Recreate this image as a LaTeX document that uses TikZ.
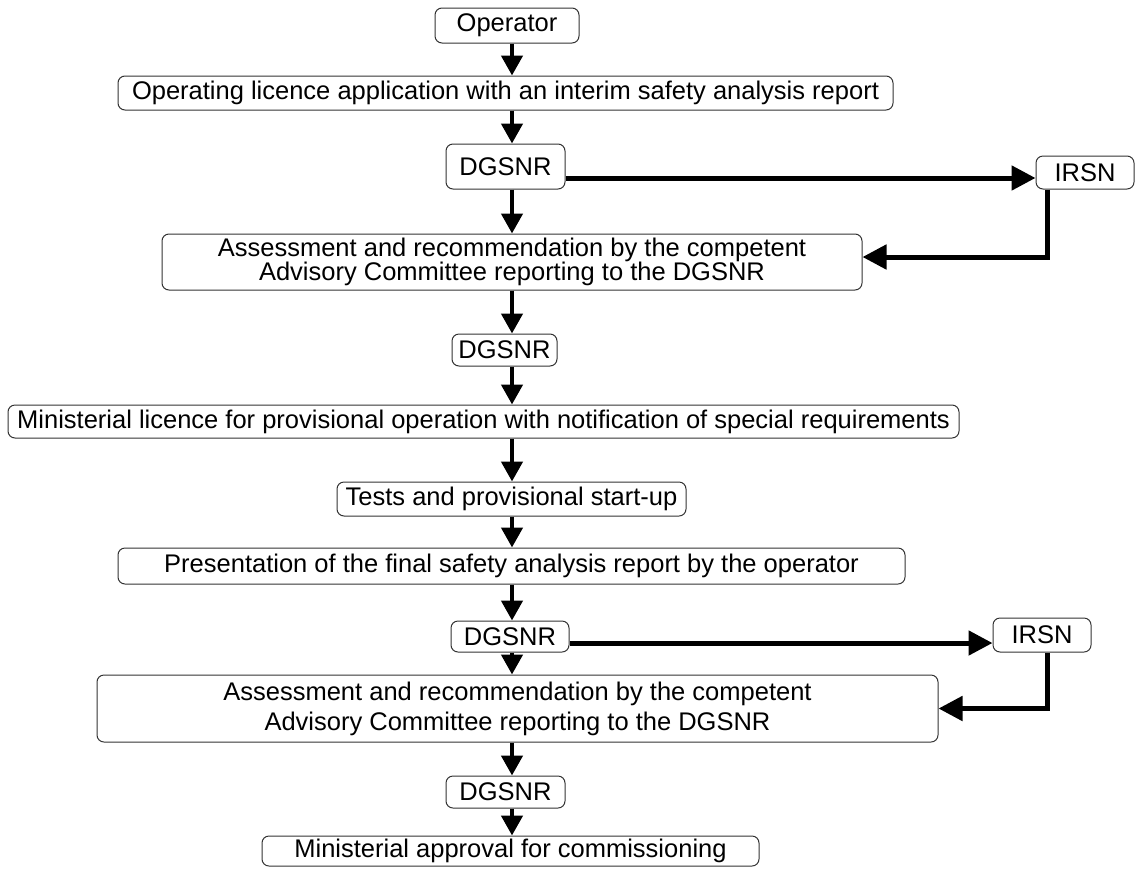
\documentclass[tikz,border=0pt]{standalone}
\usepackage{fontspec}
\setmainfont{Liberation Sans}
\usetikzlibrary{arrows.meta}

\begin{document}
\begin{tikzpicture}[x=1pt,y=-1pt,
  box/.style={draw=black!80,line width=1pt,rounded corners=7pt,inner sep=0pt,
    align=center,font=\fontsize{25.5}{23}\selectfont},
  flow/.style={line width=4.5pt,-{Triangle[length=20pt,width=21pt]}},
  side/.style={line width=5pt,-{Triangle[length=24pt,width=24pt]}}]
\useasboundingbox (0,0) rectangle (1137,868);

\node[box,minimum width=144pt,minimum height=35pt] (op) at (507,25.5) {Operator};
\node[box,minimum width=775pt,minimum height=34pt] (lic) at (505.5,93) {Operating licence application with an interim safety analysis report};
\node[box,minimum width=119pt,minimum height=45pt] (dg1) at (505.5,166.5) {DGSNR};
\node[box,minimum width=98pt,minimum height=33pt] (irsn1) at (1085,172.5) {IRSN};
\node[box,minimum width=700pt,minimum height=56pt] (ass1) at (512,262) {Assessment and recommendation by the competent\\ Advisory Committee reporting to the DGSNR};
\node[box,minimum width=105pt,minimum height=32pt] (dg2) at (504.5,350) {DGSNR};
\node[box,minimum width=951pt,minimum height=33pt] (min) at (483.5,421.5) {Ministerial licence for provisional operation with notification of special requirements};
\node[box,minimum width=349pt,minimum height=34pt] (tests) at (511.5,499) {Tests and provisional start-up};
\node[box,minimum width=787pt,minimum height=36pt] (pres) at (511.5,566) {Presentation of the final safety analysis report by the operator};
\node[box,minimum width=118pt,minimum height=31pt] (dg3) at (510,636.5) {DGSNR};
\node[box,minimum width=98pt,minimum height=34pt] (irsn2) at (1042,635) {IRSN};
\node[box,minimum width=841pt,minimum height=67pt,font=\fontsize{25.5}{30}\selectfont] (ass2) at (517.5,708.5) {Assessment and recommendation by the competent\\ Advisory Committee reporting to the DGSNR};
\node[box,minimum width=119pt,minimum height=32pt] (dg4) at (505.5,792) {DGSNR};
\node[box,minimum width=497pt,minimum height=30pt] (fin) at (510.5,851) {Ministerial approval for commissioning};

% main column
\coordinate (ax) at (512,0);
\path[draw,flow] (op.south -| ax) -- (lic.north -| ax);
\path[draw,flow] (lic.south -| ax) -- (dg1.north -| ax);
\path[draw,flow] (dg1.south -| ax) -- (ass1.north -| ax);
\path[draw,flow] (ass1.south -| ax) -- (dg2.north -| ax);
\path[draw,flow] (dg2.south -| ax) -- (min.north -| ax);
\path[draw,flow] (min.south -| ax) -- (tests.north -| ax);
\path[draw,flow] (tests.south -| ax) -- (pres.north -| ax);
\path[draw,flow] (pres.south -| ax) -- (dg3.north -| ax);
\path[draw,flow] (dg3.south -| ax) -- (ass2.north -| ax);
\path[draw,flow] (ass2.south -| ax) -- (dg4.north -| ax);
\path[draw,flow] (dg4.south -| ax) -- (fin.north -| ax);

% side loops to IRSN
\coordinate (h1) at (0,178);
\coordinate (h2) at (0,643);
\coordinate (f1) at (0,257);
\coordinate (bx) at (1047,0);
\path[draw,side] (dg1.east |- h1) -- (irsn1.west |- h1);
\path[draw,side] (irsn1.south -| bx) |- (ass1.east |- f1);
\path[draw,side] (dg3.east |- h2) -- (irsn2.west |- h2);
\path[draw,side] (irsn2.south -| bx) |- (ass2.east);
\end{tikzpicture}
\end{document}
